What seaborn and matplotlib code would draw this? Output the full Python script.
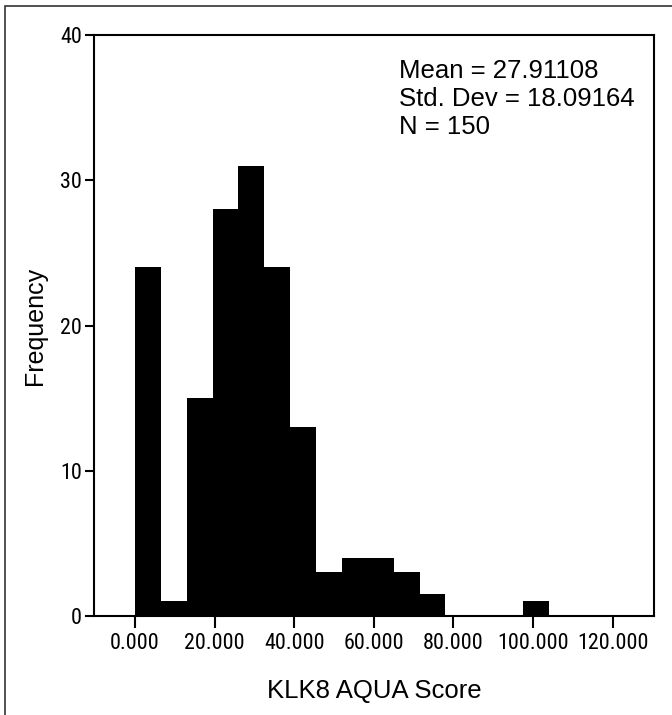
import numpy as np
import pandas as pd
import seaborn as sns
import matplotlib.pyplot as plt
from matplotlib import font_manager as fm
from matplotlib.font_manager import FontProperties
from matplotlib.textpath import TextPath
from matplotlib.patches import Rectangle


# Histogram bins (KLK8 AQUA Score) and frequencies
bin_edges = [0, 6.5, 13, 19.5, 26, 32.5, 39, 45.5, 52, 58.5, 65, 71.5,
             78, 84.5, 91, 97.5, 104]
counts = [24, 1, 15, 28, 31, 24, 13, 3, 4, 4, 3, 1.5, 0, 0, 0, 1]

x_ticks = [0, 20, 40, 60, 80, 100, 120]
x_ticklabels = ['0.000', '20.000', '40.000', '60.000', '80.000', '100.000', '120.000']
y_ticks = [0, 10, 20, 30, 40]

stats_lines = ['Mean = 27.91108', 'Std. Dev = 18.09164', 'N = 150']

centers = [(a + b) / 2 for a, b in zip(bin_edges[:-1], bin_edges[1:])]
df = pd.DataFrame({'score': centers, 'freq': counts})

sns.set_style('ticks')
plt.rcParams['font.family'] = ['Liberation Sans', 'DejaVu Sans']
plt.rcParams['text.color'] = 'black'
plt.rcParams['axes.labelcolor'] = 'black'


# tick labels in the original use a narrow face; take one if it is installed
def pick_narrow():
    prefs = ['liberationsansnarrow-regular', 'robotocondensed-regular',
             'notosans-condensed.', 'notosans-condensedregular',
             'opensans-condensed', 'dejavusanscondensed.ttf']
    files = [f.fname for f in fm.fontManager.ttflist]
    for p in prefs:
        for fn in files:
            if p in fn.lower().replace(' ', ''):
                return FontProperties(fname=fn)
    return FontProperties(family='Liberation Sans')


tick_fp = pick_narrow()
# size so that "0.000" is about 47 px wide
w_em = TextPath((0, 0), '0.000', size=1, prop=tick_fp).get_extents().width
px = min(47 / w_em, 23)
tick_fp.set_size(px * 72 / 100)

fig = plt.figure(figsize=(6.72, 7.15), dpi=100)
ax = fig.add_axes([94 / 672, 1 - 616 / 715, 560 / 672, 581 / 715])

sns.histplot(
    data=df,
    x='score',
    weights='freq',
    bins=bin_edges,
    color='black',
    alpha=1,
    edgecolor='none',
    linewidth=0,
    ax=ax
)

ax.set_xlim(-10.3, 130.4)
ax.set_ylim(0, 40)
ax.set_xticks(x_ticks)
ax.set_xticklabels(x_ticklabels, fontproperties=tick_fp)
ax.set_yticks(y_ticks)
ax.set_yticklabels([str(v) for v in y_ticks], fontproperties=tick_fp)

for s in ax.spines.values():
    s.set_visible(True)
    s.set_linewidth(1.5)
    s.set_color('black')

ax.tick_params(axis='x', length=8.5, width=1.5, pad=4, colors='black')
ax.tick_params(axis='y', length=6.5, width=1.5, pad=2, colors='black')

ax.set_xlabel('KLK8 AQUA Score', fontsize=18.5)
ax.set_ylabel('Frequency', fontsize=18)
ax.xaxis.set_label_coords(0.5, -0.108)
ax.yaxis.set_label_coords(-0.084, 0.5)

ax.text(0.545, 0.958, '\n'.join(stats_lines), transform=ax.transAxes,
        ha='left', va='top', fontsize=18.5, linespacing=1.2)

# thin frame around the figure panel (cropped at right/bottom)
fig.add_artist(Rectangle((5 / 672, -0.05), 1.2, 0.05 + 1 - 6 / 715,
                         transform=fig.transFigure, fill=False,
                         edgecolor='#333333', linewidth=1.2, clip_on=False))

plt.savefig('out.png', dpi=100)
